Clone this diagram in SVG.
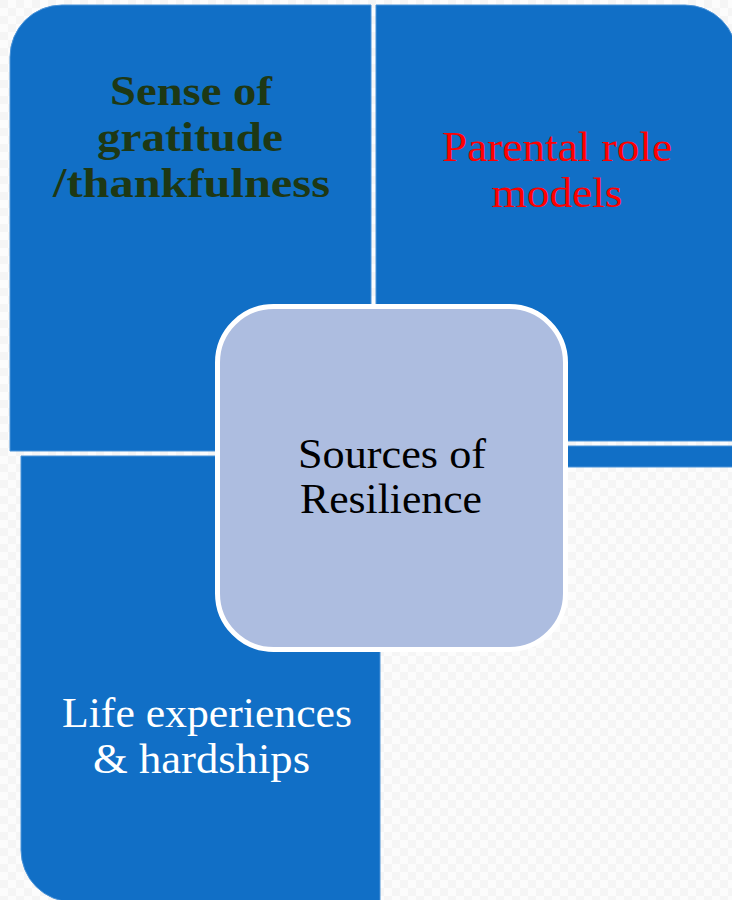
<svg xmlns="http://www.w3.org/2000/svg" width="732" height="900" viewBox="0 0 732 900">
<style>
.quad{fill:#116fc6;stroke:#4b93d8;stroke-width:1}
.center{fill:#adbde0;stroke:#ffffff;stroke-width:5}
.t{font-family:"Liberation Serif","DejaVu Serif",serif;font-size:42px;text-anchor:middle}
.b{font-weight:bold;fill:#1e3814}
</style>
<defs>
<pattern id="bg" width="16" height="16" patternUnits="userSpaceOnUse">
<rect width="16" height="16" fill="#fcfcfc"/>
<rect width="8" height="8" fill="#f5f5f5"/>
<rect x="8" y="8" width="8" height="8" fill="#f5f5f5"/>
</pattern>
</defs>
<rect width="732" height="900" fill="url(#bg)"/>
<g id="node-gratitude">
<path class="quad" d="M10,57 A52,52 0 0 1 62,5 L371,5 L371,451 L10,451 Z"/>
<text class="t b" x="191" y="105" textLength="162" lengthAdjust="spacingAndGlyphs">Sense of</text>
<text class="t b" x="190" y="151" textLength="186" lengthAdjust="spacingAndGlyphs">gratitude</text>
<text class="t b" x="191.5" y="197" textLength="277" lengthAdjust="spacingAndGlyphs">/thankfulness</text>
</g>
<g id="node-parental">
<path class="quad" d="M376,5 L685,5 A52,52 0 0 1 737,57 L737,441 L376,441 Z"/>
<rect class="quad" x="567" y="446" width="170" height="21"/>
<text class="t" x="557" y="161" fill="#ff0000" textLength="230" lengthAdjust="spacingAndGlyphs">Parental role</text>
<text class="t" x="557" y="207" fill="#ff0000" textLength="131" lengthAdjust="spacingAndGlyphs">models</text>
</g>
<g id="node-life">
<path class="quad" d="M21,456 L380,456 L380,905 L73,902 A52,52 0 0 1 21,850 Z"/>
<text class="t" x="207" y="727" fill="#ffffff" textLength="290" lengthAdjust="spacingAndGlyphs">Life experiences</text>
<text class="t" x="201.5" y="773" fill="#ffffff" textLength="217" lengthAdjust="spacingAndGlyphs">&amp; hardships</text>
</g>
<g id="node-center">
<rect class="center" x="217.5" y="306.5" width="348" height="343" rx="56" ry="56"/>
<text class="t" x="392" y="468" fill="#000000" textLength="188" lengthAdjust="spacingAndGlyphs">Sources of</text>
<text class="t" x="391" y="513" fill="#000000" textLength="182" lengthAdjust="spacingAndGlyphs">Resilience</text>
</g>
<g id="connectors"/>
</svg>
